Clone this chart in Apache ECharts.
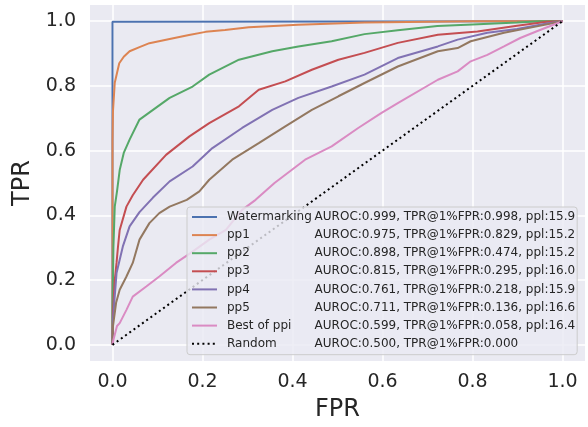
<!DOCTYPE html>
<html>
<head>
<meta charset="utf-8">
<style>html,body{margin:0;padding:0;background:#fff;}#c{width:588px;height:427px;}</style>
<script src="https://cdn.jsdelivr.net/npm/echarts@6/dist/echarts.min.js"></script>
</head>
<body>
<div id="c"></div>
<script>
const tickVals = [0.0, 0.2, 0.4, 0.6, 0.8, 1.0];
const seriesNames = ['Watermarking', 'pp1', 'pp2', 'pp3', 'pp4', 'pp5', 'Best of ppi', 'Random'];
const seriesStats = [
  'AUROC:0.999, TPR@1%FPR:0.998, ppl:15.9',
  'AUROC:0.975, TPR@1%FPR:0.829, ppl:15.2',
  'AUROC:0.898, TPR@1%FPR:0.474, ppl:15.2',
  'AUROC:0.815, TPR@1%FPR:0.295, ppl:16.0',
  'AUROC:0.761, TPR@1%FPR:0.218, ppl:15.9',
  'AUROC:0.711, TPR@1%FPR:0.136, ppl:16.6',
  'AUROC:0.599, TPR@1%FPR:0.058, ppl:16.4',
  'AUROC:0.500, TPR@1%FPR:0.000'
];
const colors = ['#4c72b0', '#dd8452', '#55a868', '#c44e52', '#8172b3', '#937860', '#da8bc3', '#000000'];

const watermarking = [[0,0],[0,0.998],[0.01,0.998],[0.5,0.999],[1,1]];
const pp1 = [[0,0],[0,0.63],[0.001,0.72],[0.005,0.81],[0.01,0.84],[0.015,0.87],[0.025,0.89],[0.038,0.907],[0.06,0.92],[0.082,0.932],[0.127,0.945],[0.17,0.957],[0.207,0.967],[0.25,0.973],[0.303,0.981],[0.413,0.989],[0.56,0.996],[0.8,1],[1,1]];
const pp2 = [[0,0],[0,0.1],[0.002,0.3],[0.005,0.427],[0.01,0.474],[0.016,0.54],[0.025,0.593],[0.038,0.634],[0.06,0.696],[0.09,0.726],[0.127,0.763],[0.178,0.798],[0.215,0.835],[0.281,0.881],[0.355,0.907],[0.413,0.922],[0.487,0.938],[0.56,0.96],[0.634,0.972],[0.722,0.985],[0.8,0.99],[0.899,0.996],[0.95,1],[1,1]];
const pp3 = [[0,0],[0.001,0.098],[0.005,0.2],[0.009,0.253],[0.012,0.3],[0.016,0.355],[0.031,0.427],[0.045,0.462],[0.068,0.51],[0.119,0.587],[0.171,0.644],[0.215,0.685],[0.281,0.737],[0.325,0.788],[0.384,0.814],[0.443,0.85],[0.502,0.881],[0.56,0.902],[0.634,0.933],[0.723,0.958],[0.811,0.968],[0.899,0.986],[0.965,0.998],[1,1]];
const pp4 = [[0,0],[0.001,0.077],[0.009,0.222],[0.023,0.304],[0.038,0.366],[0.06,0.41],[0.09,0.455],[0.127,0.505],[0.178,0.551],[0.222,0.608],[0.288,0.67],[0.355,0.726],[0.413,0.763],[0.487,0.798],[0.56,0.835],[0.634,0.886],[0.723,0.922],[0.767,0.943],[0.833,0.964],[0.899,0.976],[0.965,0.993],[1,1]];
const pp5 = [[0,0],[0.001,0.057],[0.008,0.13],[0.016,0.17],[0.031,0.211],[0.045,0.253],[0.06,0.325],[0.082,0.376],[0.104,0.407],[0.127,0.427],[0.165,0.448],[0.193,0.474],[0.215,0.51],[0.266,0.572],[0.325,0.623],[0.384,0.675],[0.443,0.726],[0.502,0.768],[0.56,0.809],[0.634,0.86],[0.723,0.907],[0.767,0.917],[0.796,0.938],[0.87,0.964],[0.943,0.984],[1,1]];
const bestOfPpi = [[0,0],[0.002,0.015],[0.01,0.058],[0.016,0.067],[0.031,0.108],[0.045,0.149],[0.075,0.18],[0.104,0.211],[0.141,0.253],[0.178,0.288],[0.215,0.325],[0.252,0.355],[0.288,0.417],[0.318,0.448],[0.36,0.5],[0.428,0.572],[0.487,0.613],[0.546,0.67],[0.597,0.716],[0.634,0.747],[0.723,0.819],[0.767,0.845],[0.796,0.876],[0.833,0.896],[0.87,0.922],[0.906,0.948],[0.943,0.969],[0.98,0.989],[1,1]];
const random = [[0,0],[1,1]];

const seriesData = [watermarking, pp1, pp2, pp3, pp4, pp5, bestOfPpi, random];

const FONT = 'DejaVu Sans';
const TXT = '#262626';

const chart = echarts.init(document.getElementById('c'), null, {renderer: 'canvas'});

function tickFmt(v) {
  return tickVals.some(t => Math.abs(t - v) < 1e-6) ? v.toFixed(1) : '';
}

const statsByName = {};
seriesNames.forEach((n, i) => statsByName[n] = seriesStats[i]);

const series = seriesNames.map((name, i) => {
  const isRandom = name === 'Random';
  return {
    name: name,
    type: 'line',
    data: seriesData[i],
    showSymbol: false,
    symbol: 'none',
    animation: false,
    silent: true,
    color: colors[i],
    lineStyle: isRandom
      ? {color: colors[i], width: 2, type: [2, 3.2], cap: 'butt'}
      : {color: colors[i], width: 2}
  };
});

const axisCommon = {
  type: 'value',
  min: -0.05,
  max: 1.05,
  minInterval: 0.2,
  maxInterval: 0.2,
  axisLine: {show: false},
  axisTick: {show: false},
  splitLine: {show: true, showMinLine: false, showMaxLine: false, lineStyle: {color: '#ffffff', width: 1.5}},
  nameLocation: 'middle',
  nameTextStyle: {fontFamily: FONT, fontSize: 24, color: TXT},
};

chart.setOption({
  backgroundColor: '#ffffff',
  animation: false,
  grid: {left: 90, right: 0, top: 5, bottom: 66, show: true, backgroundColor: '#eaeaf2', borderWidth: 0, containLabel: false},
  xAxis: Object.assign({}, axisCommon, {
    name: 'FPR',
    nameGap: 37,
    axisLabel: {formatter: tickFmt, fontFamily: FONT, fontSize: 19, color: TXT, margin: 12, showMinLabel: true, showMaxLabel: true}
  }),
  yAxis: Object.assign({}, axisCommon, {
    name: 'TPR',
    nameGap: 53,
    axisLabel: {formatter: tickFmt, fontFamily: FONT, fontSize: 19, color: TXT, margin: 14}
  }),
  legend: {
    orient: 'vertical',
    left: 187,
    top: 207,
    padding: [3, 2, 4, 4],
    itemWidth: 25,
    itemHeight: 14,
    itemGap: 4.1,
    itemStyle: {opacity: 0},
    backgroundColor: 'rgba(234,234,242,0.8)',
    borderColor: '#cccccc',
    borderWidth: 1,
    borderRadius: 3,
    data: seriesNames,
    formatter: function (name) {
      return '{g|}{n|' + name + '}{s|' + statsByName[name] + '}';
    },
    textStyle: {
      fontFamily: FONT,
      fontSize: 12,
      color: TXT,
      lineHeight: 14,
      rich: {
        g: {width: 5},
        n: {width: 87.6, fontFamily: FONT, fontSize: 12, color: TXT},
        s: {fontFamily: FONT, fontSize: 12, color: TXT}
      }
    }
  },
  series: series
});
</script>
</body>
</html>
